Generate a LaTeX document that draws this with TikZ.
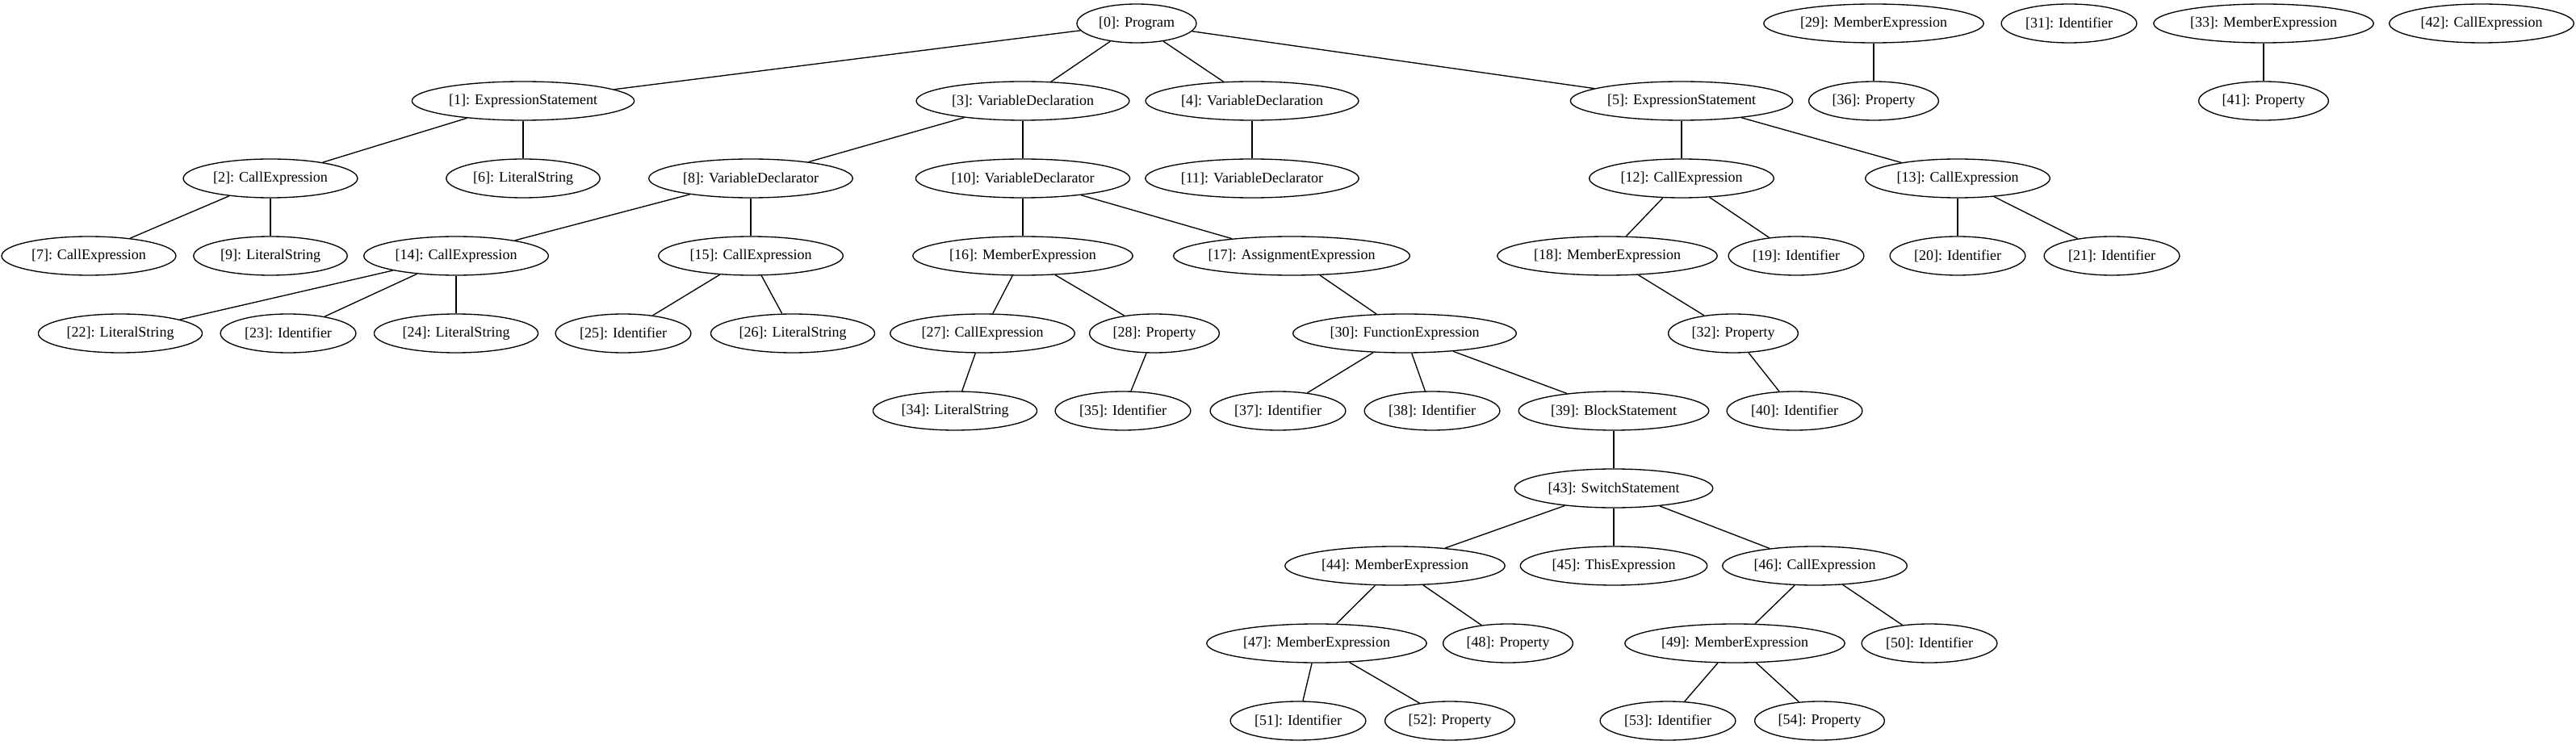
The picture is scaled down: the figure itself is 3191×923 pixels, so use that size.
\documentclass[tikz,border=0pt]{standalone}
\usepackage{fontspec}
\setmainfont{Liberation Serif}
\usetikzlibrary{shapes.geometric}

\begin{document}
\begin{tikzpicture}[x=0.75pt,y=-0.75pt,line width=1pt,
  ast/.style={ellipse,draw,minimum height=36pt,inner xsep=4pt,inner ysep=2pt,
    font=\fontsize{13.5pt}{16pt}\selectfont}]
\useasboundingbox (0,0) rectangle (3191,923);
% row 0
\node[ast] (0) at (1408,29) {[0]: Program};
\node[ast] (29) at (2321,29) {[29]: MemberExpression};
\node[ast] (31) at (2563,29) {[31]: Identifier};
\node[ast] (33) at (2804,29) {[33]: MemberExpression};
\node[ast] (42) at (3074,29) {[42]: CallExpression};
% row 1
\node[ast] (1) at (648,125) {[1]: ExpressionStatement};
\node[ast] (3) at (1267,125) {[3]: VariableDeclaration};
\node[ast] (4) at (1551,125) {[4]: VariableDeclaration};
\node[ast] (5) at (2083,125) {[5]: ExpressionStatement};
\node[ast] (36) at (2321,125) {[36]: Property};
\node[ast] (41) at (2804,125) {[41]: Property};
% row 2
\node[ast] (2) at (335,221) {[2]: CallExpression};
\node[ast] (6) at (648,221) {[6]: LiteralString};
\node[ast] (8) at (930,221) {[8]: VariableDeclarator};
\node[ast] (10) at (1267,221) {[10]: VariableDeclarator};
\node[ast] (11) at (1551,221) {[11]: VariableDeclarator};
\node[ast] (12) at (2083,221) {[12]: CallExpression};
\node[ast] (13) at (2425,221) {[13]: CallExpression};
% row 3
\node[ast] (7) at (110,317) {[7]: CallExpression};
\node[ast] (9) at (335,317) {[9]: LiteralString};
\node[ast] (14) at (565,317) {[14]: CallExpression};
\node[ast] (15) at (930,317) {[15]: CallExpression};
\node[ast] (16) at (1267,317) {[16]: MemberExpression};
\node[ast,inner xsep=0pt] (17) at (1600,317) {[17]: AssignmentExpression};
\node[ast] (18) at (1991,317) {[18]: MemberExpression};
\node[ast] (19) at (2225,317) {[19]: Identifier};
\node[ast] (20) at (2425,317) {[20]: Identifier};
\node[ast] (21) at (2616,317) {[21]: Identifier};
% row 4
\node[ast] (22) at (149,413) {[22]: LiteralString};
\node[ast] (23) at (357,413) {[23]: Identifier};
\node[ast] (24) at (565,413) {[24]: LiteralString};
\node[ast] (25) at (772,413) {[25]: Identifier};
\node[ast] (26) at (982,413) {[26]: LiteralString};
\node[ast] (27) at (1217,413) {[27]: CallExpression};
\node[ast] (28) at (1430,413) {[28]: Property};
\node[ast] (30) at (1740,413) {[30]: FunctionExpression};
\node[ast] (32) at (2147,413) {[32]: Property};
% row 5
\node[ast] (34) at (1183,509) {[34]: LiteralString};
\node[ast] (35) at (1391,509) {[35]: Identifier};
\node[ast] (37) at (1583,509) {[37]: Identifier};
\node[ast] (38) at (1774,509) {[38]: Identifier};
\node[ast] (39) at (1999,509) {[39]: BlockStatement};
\node[ast] (40) at (2223,509) {[40]: Identifier};
% rows 6-9
\node[ast] (43) at (1999,605) {[43]: SwitchStatement};
\node[ast] (44) at (1728,701) {[44]: MemberExpression};
\node[ast] (45) at (1999,701) {[45]: ThisExpression};
\node[ast] (46) at (2248,701) {[46]: CallExpression};
\node[ast] (47) at (1631,797) {[47]: MemberExpression};
\node[ast] (48) at (1868,797) {[48]: Property};
\node[ast] (49) at (2149,797) {[49]: MemberExpression};
\node[ast] (50) at (2390,797) {[50]: Identifier};
\node[ast] (51) at (1608,893) {[51]: Identifier};
\node[ast] (52) at (1796,893) {[52]: Property};
\node[ast] (53) at (2066,893) {[53]: Identifier};
\node[ast] (54) at (2254,893) {[54]: Property};
% edges
\draw (0)--(1);
\draw (0)--(3);
\draw (0)--(4);
\draw (0)--(5);
\draw (1)--(2);
\draw (1)--(6);
\draw (2)--(7);
\draw (2)--(9);
\draw (3)--(8);
\draw (3)--(10);
\draw (4)--(11);
\draw (5)--(12);
\draw (5)--(13);
\draw (8)--(14);
\draw (8)--(15);
\draw (10)--(16);
\draw (10)--(17);
\draw (12)--(18);
\draw (12)--(19);
\draw (13)--(20);
\draw (13)--(21);
\draw (14)--(22);
\draw (14)--(23);
\draw (14)--(24);
\draw (15)--(25);
\draw (15)--(26);
\draw (16)--(27);
\draw (16)--(28);
\draw (17)--(30);
\draw (18)--(32);
\draw (27)--(34);
\draw (28)--(35);
\draw (30)--(37);
\draw (30)--(38);
\draw (30)--(39);
\draw (32)--(40);
\draw (39)--(43);
\draw (43)--(44);
\draw (43)--(45);
\draw (43)--(46);
\draw (44)--(47);
\draw (44)--(48);
\draw (46)--(49);
\draw (46)--(50);
\draw (47)--(51);
\draw (47)--(52);
\draw (49)--(53);
\draw (49)--(54);
\draw (29)--(36);
\draw (33)--(41);
\end{tikzpicture}
\end{document}
